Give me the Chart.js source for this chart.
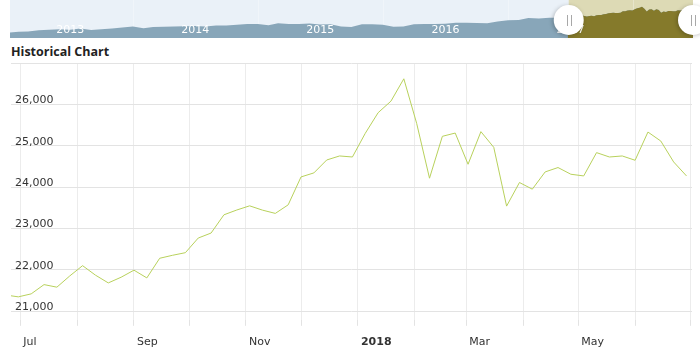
<!DOCTYPE html>
<html><head><meta charset="utf-8">
<script src="https://cdn.jsdelivr.net/npm/chart.js@4.4.0/dist/chart.umd.min.js"></script>
<style>
html,body{margin:0;padding:0;background:#fff;width:700px;height:358px;overflow:hidden;}
#navc{position:absolute;left:0;top:0;}
#title{position:absolute;left:11px;top:45px;font:bold 12.5px "Open Sans";line-height:13px;color:#222;white-space:nowrap;}
#mainc{position:absolute;left:0;top:58px;}
</style></head>
<body>
<canvas id="navc" width="700" height="40"></canvas>
<div id="title">Historical Chart</div>
<canvas id="mainc" width="700" height="300"></canvas>
<script>
// ---- main chart data (weekly closes) ----
const weekDates = ['2017-06-23','2017-06-30','2017-07-07','2017-07-14','2017-07-21','2017-07-28','2017-08-04','2017-08-11','2017-08-18','2017-08-25','2017-09-01','2017-09-08','2017-09-15','2017-09-22','2017-09-29','2017-10-06','2017-10-13','2017-10-20','2017-10-27','2017-11-03','2017-11-10','2017-11-17','2017-11-24','2017-12-01','2017-12-08','2017-12-15','2017-12-22','2017-12-29','2018-01-05','2018-01-12','2018-01-19','2018-01-26','2018-02-02','2018-02-09','2018-02-16','2018-02-23','2018-03-02','2018-03-09','2018-03-16','2018-03-23','2018-03-30','2018-04-06','2018-04-13','2018-04-20','2018-04-27','2018-05-04','2018-05-11','2018-05-18','2018-05-25','2018-06-01','2018-06-08','2018-06-15','2018-06-22','2018-06-29'];
const weekValues = [21390,21345,21417,21641,21579,21850,22099,21870,21682,21820,21990,21803,22278,22350,22413,22767,22888,23329,23445,23546,23442,23363,23570,24245,24342,24655,24752,24727,25300,25798,26078,26618,25540,24214,25227,25306,24551,25340,24961,23539,24110,23949,24366,24472,24310,24269,24833,24727,24752,24648,25330,25113,24607,24269];

// x axis ticks (month starts) and labels
const monthTickDates = ['2017-07-01','2017-08-01','2017-09-01','2017-10-01','2017-11-01','2017-12-01','2018-01-01','2018-02-01','2018-03-01','2018-04-01','2018-05-01','2018-06-01','2018-07-01'];
const monthTickLabels = ['Jul','','Sep','','Nov','','2018','','Mar','','May','',''];
const mainRange = ['2017-06-26','2018-07-02'];

// y axis ticks
const yTickValues = [21000,22000,23000,24000,25000,26000,27000];
const yTickLabels = ['21,000','22,000','23,000','24,000','25,000','26,000',''];
const yRange = [20790, 27000];

// ---- navigator data (monthly closes before the weekly window) ----
const navMonths = ['2013-01','2013-02','2013-03','2013-04','2013-05','2013-06','2013-07','2013-08','2013-09','2013-10','2013-11','2013-12',
'2014-01','2014-02','2014-03','2014-04','2014-05','2014-06','2014-07','2014-08','2014-09','2014-10','2014-11','2014-12',
'2015-01','2015-02','2015-03','2015-04','2015-05','2015-06','2015-07','2015-08','2015-09','2015-10','2015-11','2015-12',
'2016-01','2016-02','2016-03','2016-04','2016-05','2016-06','2016-07','2016-08','2016-09','2016-10','2016-11','2016-12',
'2017-01','2017-02','2017-03','2017-04','2017-05'];
const navMonthValues = [13861,14054,14579,14840,15116,14910,15500,14810,15130,15546,16086,16577,
15699,16322,16458,16581,16717,16827,16563,17098,17043,17391,17828,17823,
17165,18133,17776,17841,18011,17620,17690,16528,16285,17664,17720,17425,
16466,16517,17685,17774,17787,17930,18432,18401,18308,18142,19124,19763,
19864,20812,20663,20941,21009];
const navFirstDate = '2013-01-04';
const navFirstValue = 13435;
const navRange = ['2013-01-06','2018-06-24'];
const navYRange = [10700, 30000];
const navYearStarts = ['2014-01-01','2015-01-01','2016-01-01','2017-01-01','2018-01-01'];
const navYearLabels = ['2013','2014','2015','2016','2017'];
const navYearLabelDates = ['2013-07-01','2014-07-01','2015-07-01','2016-07-01','2017-07-01'];

// ---- helpers ----
const DAY = 86400000;
const BASE = Date.UTC(2017,6,1);
function dayOf(s){const p=s.split('-').map(Number);return (Date.UTC(p[0],p[1]-1,p[2]||1)-BASE)/DAY;}
function monthEnd(s){const p=s.split('-').map(Number);return (Date.UTC(p[0],p[1],0)-BASE)/DAY;}
function noPad(ax){ax.paddingTop=0;ax.paddingBottom=0;ax.paddingLeft=0;ax.paddingRight=0;}

const weekPoints = weekDates.map((d,i)=>({x:dayOf(d),y:weekValues[i]}));
const navPoints = [{x:dayOf(navFirstDate),y:navFirstValue}]
  .concat(navMonths.map((m,i)=>({x:monthEnd(m),y:navMonthValues[i]})))
  .concat(weekPoints);

// ---- main chart ----
new Chart(document.getElementById('mainc'), {
  type:'line',
  data:{datasets:[{data:weekPoints,borderColor:'#b8d15c',borderWidth:1,pointRadius:0,pointHoverRadius:0,tension:0,fill:false}]},
  options:{
    responsive:false, animation:false, events:[],
    layout:{padding:{left:3,right:8,top:5,bottom:0}},
    plugins:{legend:{display:false},tooltip:{enabled:false}},
    scales:{
      x:{type:'linear',min:dayOf(mainRange[0]),max:dayOf(mainRange[1]),
        afterBuildTicks:ax=>{ax.ticks=monthTickDates.map(d=>({value:dayOf(d)}));},
        afterFit:noPad,
        ticks:{autoSkip:false,maxRotation:0,minRotation:0,align:'start',labelOffset:3,padding:9.5,color:'#333',
          font:c=>({family:'DejaVu Sans',size:11,weight:(monthTickLabels[c.index]==='2018')?'bold':'normal'}),
          callback:(v,i)=>monthTickLabels[i]},
        grid:{color:'#ececec',tickColor:'#e3e3e3',tickLength:6,drawTicks:true},
        border:{display:false}},
      y:{type:'linear',min:yRange[0],max:yRange[1],
        afterBuildTicks:ax=>{ax.ticks=yTickValues.map(v=>({value:v}));},
        afterFit:noPad,
        ticks:{mirror:true,padding:4,labelOffset:-4,color:'#333',font:{family:'DejaVu Sans',size:11},
          callback:(v,i)=>yTickLabels[i]},
        grid:{color:'#e3e3e3',drawTicks:false},
        border:{display:false}}
    }
  }
});

// ---- navigator ----
const selStart = dayOf(mainRange[0]), selEnd = dayOf(mainRange[1]);
const navPlugin = {
  id:'navdeco',
  beforeDraw(chart){
    const {ctx,chartArea:a,scales:{x}} = chart;
    ctx.save();
    ctx.fillStyle='#eaf1f8';
    ctx.fillRect(a.left,a.top,a.right-a.left,a.bottom-a.top);
    const l=Math.max(a.left,x.getPixelForValue(selStart));
    const r=Math.min(a.right,x.getPixelForValue(selEnd));
    ctx.fillStyle='#dddab5';
    ctx.fillRect(l,a.top,r-l,a.bottom-a.top);
    ctx.restore();
  },
  afterDraw(chart){
    const {ctx,chartArea:a,scales:{x}} = chart;
    ctx.save();
    ctx.font='11px "DejaVu Sans"';
    ctx.fillStyle='#ffffff';
    ctx.textAlign='center';
    ctx.textBaseline='middle';
    navYearLabelDates.forEach((d,i)=>{ctx.fillText(navYearLabels[i],x.getPixelForValue(dayOf(d)),30.5);});
    const l=Math.max(a.left,x.getPixelForValue(selStart));
    const r=Math.min(a.right,x.getPixelForValue(selEnd));
    [l,r].forEach(hx=>{
      ctx.save();
      ctx.shadowColor='rgba(0,0,0,0.25)';ctx.shadowBlur=4;ctx.shadowOffsetX=-1;ctx.shadowOffsetY=1;
      ctx.beginPath();ctx.arc(hx,20,15,0,Math.PI*2);ctx.fillStyle='#ffffff';ctx.fill();
      ctx.restore();
      ctx.strokeStyle='#a8a8a8';ctx.lineWidth=1;
      ctx.beginPath();
      ctx.moveTo(Math.round(hx-2)+0.5,15);ctx.lineTo(Math.round(hx-2)+0.5,26);
      ctx.moveTo(Math.round(hx+2)+0.5,15);ctx.lineTo(Math.round(hx+2)+0.5,26);
      ctx.stroke();
    });
    ctx.restore();
  }
};
new Chart(document.getElementById('navc'), {
  type:'line',
  data:{datasets:[
    {data:weekPoints,borderColor:'rgba(0,0,0,0)',borderWidth:1,backgroundColor:'#857a2b',fill:'start',pointRadius:0,tension:0},
    {data:navPoints,borderColor:'rgba(0,0,0,0)',borderWidth:1,backgroundColor:'#88a6b9',fill:'start',pointRadius:0,tension:0}
  ]},
  options:{
    responsive:false, animation:false, events:[],
    layout:{padding:{left:10,right:7,top:0,bottom:2}},
    plugins:{legend:{display:false},tooltip:{enabled:false}},
    scales:{
      x:{type:'linear',min:dayOf(navRange[0]),max:dayOf(navRange[1]),z:1,
        afterBuildTicks:ax=>{ax.ticks=navYearStarts.map(d=>({value:dayOf(d)}));},
        afterFit:noPad,
        ticks:{display:false},
        grid:{color:'rgba(255,255,255,0.3)',drawTicks:false},
        border:{display:false}},
      y:{display:false,min:navYRange[0],max:navYRange[1]}
    }
  },
  plugins:[navPlugin]
});
</script>
</body></html>
